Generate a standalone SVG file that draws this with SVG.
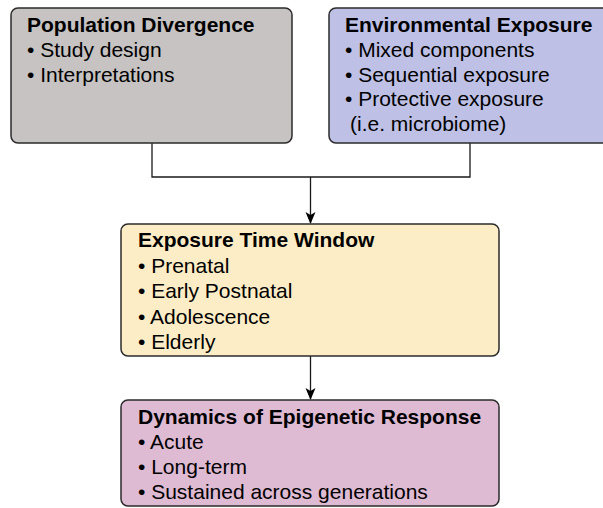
<svg xmlns="http://www.w3.org/2000/svg" width="603" height="508" viewBox="0 0 603 508">
<style>
.box{stroke:#2b2b2b;stroke-width:1.5}
.t{font-family:"Liberation Sans",Arial,sans-serif;font-size:21px;font-weight:bold;fill:#000}
.b{font-family:"Liberation Sans",Arial,sans-serif;font-size:21px;fill:#000}
.c{fill:none;stroke:#1a1a1a;stroke-width:1.3}
</style>
<defs>
<marker id="ah" markerWidth="12" markerHeight="14" refX="11" refY="6" orient="auto" markerUnits="userSpaceOnUse" viewBox="0 0 12 12">
<path d="M0,1 L12,6 L0,11 L3,6 Z" fill="#000"/>
</marker>
</defs>
<rect width="603" height="508" fill="#fff"/>
<g id="connectors">
<polyline class="c" points="152,143 152,177 470,177 470,143"/>
<line class="c" x1="310.5" y1="177" x2="310.5" y2="223" marker-end="url(#ah)"/>
<line class="c" x1="310.5" y1="356" x2="310.5" y2="399" marker-end="url(#ah)"/>
</g>
<g id="population-divergence">
<rect class="box" x="11" y="8" width="281" height="135" rx="7" fill="#c6c3c2"/>
<text class="t" x="27" y="32">Population Divergence</text>
<text class="b" x="27" y="57">• Study design</text>
<text class="b" x="27" y="82">• Interpretations</text>
</g>
<g id="environmental-exposure">
<rect class="box" x="329" y="8" width="285" height="135" rx="7" fill="#bfc0e6"/>
<text class="t" x="345" y="32">Environmental Exposure</text>
<text class="b" x="345" y="57">• Mixed components</text>
<text class="b" x="345" y="82">• Sequential exposure</text>
<text class="b" x="345" y="106">• Protective exposure</text>
<text class="b" x="350" y="131">(i.e. microbiome)</text>
</g>
<g id="exposure-time-window">
<rect class="box" x="121" y="224" width="378" height="132" rx="7" fill="#fdedc7"/>
<text class="t" x="138" y="247">Exposure Time Window</text>
<text class="b" x="138" y="273">• Prenatal</text>
<text class="b" x="138" y="298">• Early Postnatal</text>
<text class="b" x="138" y="324">• Adolescence</text>
<text class="b" x="138" y="349">• Elderly</text>
</g>
<g id="dynamics-epigenetic-response">
<rect class="box" x="121" y="400" width="378" height="106" rx="7" fill="#dfbad3"/>
<text class="t" x="138" y="424">Dynamics of Epigenetic Response</text>
<text class="b" x="138" y="449">• Acute</text>
<text class="b" x="138" y="474">• Long-term</text>
<text class="b" x="138" y="499">• Sustained across generations</text>
</g>
</svg>
